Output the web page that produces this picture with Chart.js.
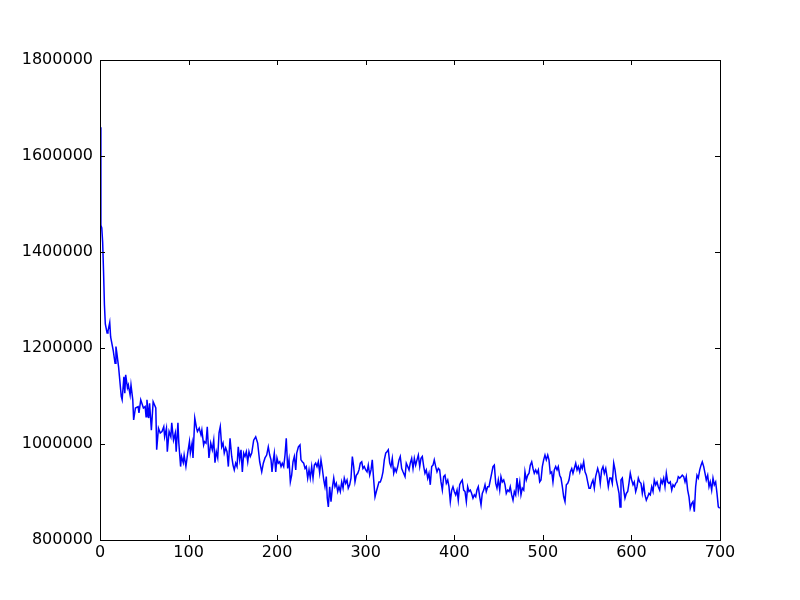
<!DOCTYPE html>
<html>
<head>
<meta charset="utf-8">
<script src="https://cdn.jsdelivr.net/npm/chart.js@4.4.1/dist/chart.umd.min.js"></script>
<style>
  html, body { margin: 0; padding: 0; background: #fff; }
  #chart { display: block; }
</style>
</head>
<body>
<canvas id="chart" width="800" height="600"></canvas>
<script>
// values (x = step, y = value)
const xs = [
  0, 1, 2, 3, 4, 5, 6, 8, 9, 11, 12, 15, 17, 18, 19, 21, 24, 25, 27, 28, 29, 31, 32, 34, 35, 37, 38, 40,
  43, 44, 46, 49, 51, 52, 53, 55, 56, 58, 60, 63, 64, 66, 68, 70, 72, 73, 75, 76, 78, 80, 81, 83, 85, 86,
  88, 89, 91, 92, 94, 95, 97, 99, 101, 102, 104, 105, 107, 109, 110, 112, 114, 115, 117, 118,
  119.7, 121.1, 123, 125, 126.8, 128.4, 129.8, 131.3, 132.9, 134.4, 135.8, 137.4, 138.9, 140.3, 141.9,
  143.4, 144.9, 146.8, 148.7, 150.2, 151.6, 153.2, 154.7, 156.1, 157.7, 159.2, 160.7, 162.2, 163.7,
  165.2, 166.8, 168.2, 169.7, 171.3, 173.5, 175.8, 178, 180.3, 182.6, 184.4, 186.3, 188.2, 190, 191.6,
  193.1, 194.2, 195.7, 196.8, 198.4, 199.8, 201.3, 202.9, 204.4, 205.8, 207.4, 208.9, 210.3, 211.9,
  213.4, 214.9, 216.4, 217.9, 219.4, 221, 222.1, 224, 225.8, 226.9, 228.4, 230, 231.5, 232.9, 234.5,
  236, 237.4, 239, 240.5, 242, 243.5, 245, 246.5, 248, 249.5, 251, 252.6, 254, 255.5, 256.6, 257.8,
  259.3, 260.8, 262.3, 263.9, 265.3, 266.8, 268.4, 269.8, 271.3, 272.9, 274.4, 275.8, 277.4, 278.9,
  280.3, 281.9, 283.4, 284.9, 286.4, 287.9, 289.4, 291, 292.4, 293.9, 295.5, 296.9, 298.4, 300, 301.5,
  302.9, 304.5, 306, 307.4, 309, 310.5, 312, 313.5, 315, 316.5, 318, 319.5, 321, 322.6, 324, 325.5,
  327.1, 328.5, 330, 331.6, 333, 334.5, 336.1, 337.6, 339, 340.6, 342.1, 344.4, 345.8, 347.4, 348.9,
  350.3, 351.9, 353.4, 354.9, 356.4, 357.9, 359.4, 361, 362.4, 363.9, 365.5, 366.9, 368.4, 370, 371.4,
  372.9, 374.5, 376, 377.4, 379, 380.5, 382, 383.5, 385, 386.5, 388, 389.5, 391, 392.6, 394, 395.5,
  397.1, 398.5, 400, 401.6, 403.1, 404.5, 406.1, 407.6, 409, 410.6, 412.1, 413.6, 415.1, 416.6, 418.1,
  419.6, 421.1, 422.6, 424.2, 425.6, 427.1, 428.7, 430.2, 431.6, 433.2, 434.7, 436.1, 437.7, 439.2,
  440.7, 442.2, 443.7, 445.2, 446.8, 448.2, 449.7, 451.3, 452.7, 454.2, 455.8, 457.3, 458.7, 460.3,
  461.8, 463.2, 464.8, 466.3, 467.8, 469.3, 470.8, 472.3, 473.9, 475.3, 476.8, 478.4, 479.8, 481.3,
  482.9, 484.4, 485.8, 487.4, 488.9, 490.3, 491.9, 493.4, 494.9, 496.4, 497.9, 499.4, 500.9, 502.4,
  503.9, 505.5, 506.9, 508.4, 510, 511.4, 512.9, 514.5, 516, 517.4, 519, 520.5, 522, 523.5, 525, 526.5,
  528.1, 529.5, 531, 532.6, 534, 535.5, 537.1, 538.6, 540, 541.6, 543.1, 544.5, 546.1, 547.6, 549.1,
  550.6, 552.1, 553.6, 555.1, 556.6, 558.1, 559.6, 561.9, 563.4, 564.8, 566.4, 567.9, 569.4, 571, 572.4,
  573.9, 575.5, 577, 578.4, 580, 581.5, 582.9, 584.5, 586, 587.1, 588.2, 589.7, 591.3, 592.7, 594.2,
  595.8, 597.2, 598.7, 600.3, 601.8, 603.2, 604.8, 606.3, 607.8, 609.3, 610.8, 612.3, 613.9, 615.3,
  616.8, 618.4, 619.8, 621.3, 622.9, 624.4, 625.8, 627.4, 628.9, 630.3, 631.9, 633.4, 634.8, 636.4,
  637.9, 639.4, 640.9, 642.4, 643.9, 645.5, 646.9, 648.4, 650, 651.5, 652.9, 654.5, 656, 657.4, 659,
  660.5, 661.9, 663.5, 665, 666.4, 668, 669.5, 671, 672.5, 674, 675.5, 677.1, 678.6, 680, 681.6, 683.1,
  684.5, 686.1, 687.6, 689, 690.6, 692.1, 693.6, 695.1, 696.6, 698.1, 699.7
];
const ys = [
  1660000, 1456000, 1450000, 1420000, 1360000, 1290000, 1250000, 1231000, 1235000, 1253000, 1223000,
  1194000, 1168000, 1203000, 1190000, 1160000, 1099000, 1092000, 1140000, 1106000, 1144000, 1117000,
  1123000, 1102000, 1123000, 1092000, 1050000, 1075000, 1078000, 1065000, 1092000, 1075000, 1078000,
  1057000, 1092000, 1054000, 1085000, 1029000, 1088000, 1075000, 988000, 1033000, 1023000, 1026000,
  1036000, 1015000, 1033000, 984000, 1026000, 1015000, 1044000, 1008000, 1023000, 984000, 1044000,
  1002000, 953000, 974000, 961000, 977000, 953000, 981000, 1005000, 981000, 1002000, 971000, 1054000,
  1033000, 1026000, 1033000, 1019000, 1029000, 998000, 1005000,
  1002000, 1036000, 971000, 1002000, 988000, 1008000, 961000, 984000, 971000, 1023000, 1036000, 994000,
  1002000, 981000, 992000, 984000, 953000, 1012000, 974000, 956000, 946000, 960000, 953000, 994000,
  967000, 988000, 942000, 981000, 974000, 984000, 963000, 984000, 974000, 981000, 1008000, 1015000,
  1002000, 963000, 942000, 960000, 971000, 977000, 994000, 977000, 967000, 942000, 967000, 981000,
  942000, 971000, 960000, 963000, 953000, 960000, 953000, 977000, 1012000, 949000, 967000, 921000,
  935000, 963000, 974000, 946000, 981000, 994000, 998000, 967000, 963000, 960000, 949000, 953000,
  929000, 946000, 929000, 953000, 929000, 956000, 960000, 953000, 963000, 940000, 967000, 949000,
  925000, 911000, 932000, 887000, 869000, 911000, 880000, 908000, 929000, 911000, 918000, 901000,
  911000, 901000, 921000, 908000, 929000, 918000, 925000, 908000, 915000, 929000, 974000, 953000,
  921000, 935000, 939000, 946000, 960000, 963000, 949000, 953000, 946000, 942000, 956000, 935000,
  946000, 967000, 925000, 890000, 901000, 911000, 921000, 921000, 929000, 942000, 967000, 981000,
  984000, 988000, 960000, 953000, 970000, 939000, 949000, 942000, 953000, 967000, 974000, 949000,
  942000, 932000, 960000, 953000, 946000, 960000, 970000, 949000, 970000, 956000, 967000, 977000,
  953000, 970000, 974000, 953000, 939000, 946000, 929000, 939000, 915000, 953000, 956000, 967000,
  953000, 942000, 949000, 946000, 921000, 904000, 932000, 935000, 918000, 925000, 911000, 880000,
  904000, 911000, 901000, 894000, 904000, 883000, 915000, 921000, 925000, 904000, 901000, 880000,
  911000, 901000, 904000, 897000, 887000, 894000, 890000, 904000, 911000, 890000, 873000, 897000,
  904000, 915000, 901000, 911000, 911000, 925000, 939000, 953000, 956000, 918000, 908000, 925000,
  904000, 932000, 921000, 925000, 915000, 897000, 904000, 901000, 911000, 894000, 883000, 901000,
  894000, 929000, 901000, 921000, 894000, 908000, 904000, 942000, 925000, 935000, 939000, 956000,
  963000, 949000, 939000, 946000, 939000, 946000, 921000, 925000, 953000, 967000, 977000, 967000,
  977000, 967000, 939000, 942000, 921000, 946000, 953000, 946000, 953000, 935000, 929000, 911000,
  890000, 880000, 915000, 918000, 925000, 942000, 949000, 939000, 949000, 960000, 946000, 953000,
  942000, 956000, 949000, 963000, 942000, 935000, 921000, 908000, 908000, 918000, 925000, 908000,
  932000, 949000, 939000, 918000, 946000, 953000, 939000, 949000, 932000, 911000, 929000, 929000,
  918000, 960000, 946000, 925000, 911000, 897000, 869000, 925000, 929000, 904000, 887000, 897000,
  901000, 918000, 939000, 925000, 915000, 921000, 901000, 911000, 929000, 921000, 918000, 897000,
  915000, 894000, 883000, 890000, 897000, 894000, 911000, 901000, 925000, 915000, 921000, 911000,
  904000, 925000, 918000, 929000, 911000, 939000, 921000, 918000, 921000, 904000, 915000, 911000,
  918000, 921000, 932000, 929000, 932000, 935000, 932000, 921000, 932000, 904000, 890000, 866000,
  876000, 880000, 859000, 911000, 935000, 929000, 946000, 956000, 963000, 953000, 939000, 925000,
  935000, 911000, 921000, 904000, 929000, 915000, 921000, 897000, 869000, 866000
];
const xTicks = [0, 100, 200, 300, 400, 500, 600, 700];
const yTicks = [800000, 1000000, 1200000, 1400000, 1600000, 1800000];

const FONT = { family: 'DejaVu Sans', size: 16 };

// matplotlib-style box with inward ticks on all four sides
const framePlugin = {
  id: 'frame',
  afterDatasetsDraw(chart) {
    const { ctx, chartArea: a, scales } = chart;
    const len = 5;
    ctx.save();
    ctx.strokeStyle = '#000';
    ctx.lineWidth = 1;
    ctx.beginPath();
    xTicks.forEach(v => {
      const px = Math.round(scales.x.getPixelForValue(v)) + 0.5;
      ctx.moveTo(px, a.bottom); ctx.lineTo(px, a.bottom - len);
      ctx.moveTo(px, a.top); ctx.lineTo(px, a.top + len);
    });
    yTicks.forEach(v => {
      const py = Math.round(scales.y.getPixelForValue(v)) + 0.5;
      ctx.moveTo(a.left, py); ctx.lineTo(a.left + len, py);
      ctx.moveTo(a.right, py); ctx.lineTo(a.right - len, py);
    });
    ctx.stroke();
    ctx.strokeRect(a.left + 0.5, a.top + 0.5, a.right - a.left, a.bottom - a.top);
    ctx.restore();
  }
};

new Chart(document.getElementById('chart'), {
  type: 'line',
  data: {
    datasets: [{
      data: xs.map((x, i) => ({ x, y: ys[i] })),
      borderColor: '#0000ff',
      borderWidth: 1.5,
      pointRadius: 0,
      tension: 0,
      fill: false
    }]
  },
  options: {
    responsive: false,
    animation: false,
    layout: { padding: { top: 60, right: 80, left: 0, bottom: 0 } },
    plugins: { legend: { display: false }, tooltip: { enabled: false } },
    scales: {
      x: {
        type: 'linear',
        min: 0, max: 700,
        afterBuildTicks: s => { s.ticks = xTicks.map(value => ({ value })); },
        afterFit: s => { s.height = 60; },
        grid: { display: false, drawTicks: false },
        border: { display: false },
        ticks: { color: '#000', font: FONT, padding: 3, maxRotation: 0, callback: v => String(v) }
      },
      y: {
        min: 800000, max: 1800000,
        afterBuildTicks: s => { s.ticks = yTicks.map(value => ({ value })); },
        afterFit: s => { s.width = 100; },
        grid: { display: false, drawTicks: false },
        border: { display: false },
        ticks: { color: '#000', font: FONT, padding: 7, callback: v => String(v) }
      }
    }
  },
  plugins: [framePlugin]
});
</script>
</body>
</html>
